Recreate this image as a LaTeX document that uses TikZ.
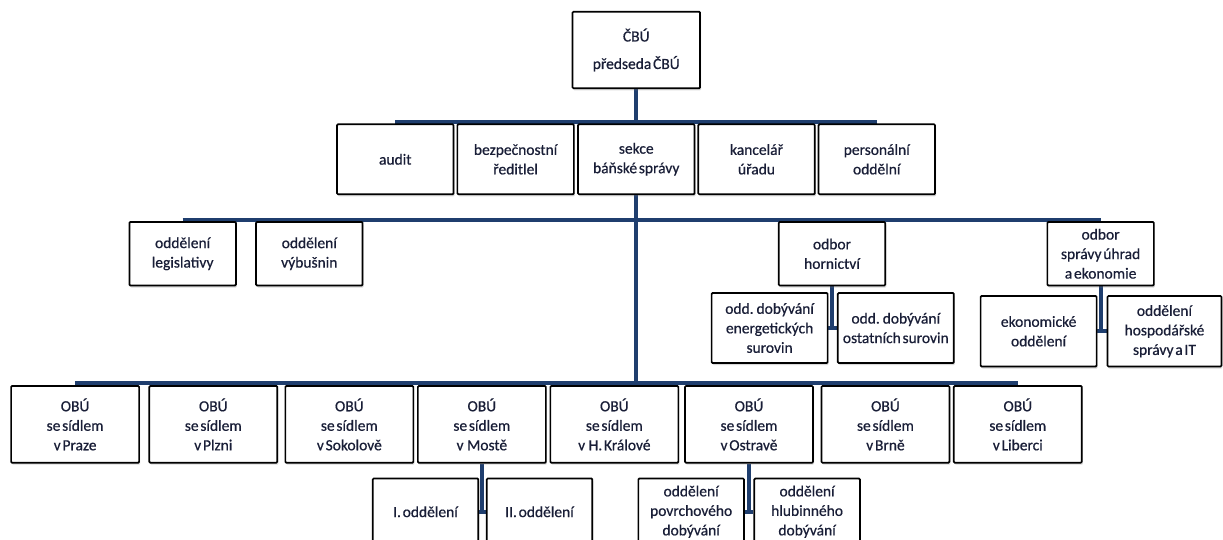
\documentclass[tikz,border=0pt]{standalone}
\usepackage{fontspec}
\setmainfont{Carlito}[WordSpace=0.5,FakeBold=0.6]
\usetikzlibrary{shadows,backgrounds}
\definecolor{conncol}{RGB}{31,62,110}
\definecolor{txtcol}{RGB}{25,30,55}
\tikzset{
  box/.style={draw=black, line width=1.7pt, rounded corners=1pt, fill=white,
    align=center, inner sep=1pt, text=txtcol,
    font=\fontsize{15.5}{19.5}\selectfont,
    drop shadow={shadow xshift=1pt, shadow yshift=-2pt, opacity=0.3}},
  toprow/.style={box, minimum width=116.5pt, minimum height=70pt},
  midrow/.style={box, minimum width=106.5pt, minimum height=63.5pt},
  subrow/.style={box, minimum width=116pt, minimum height=70pt},
  oburow/.style={box, minimum width=128pt, minimum height=76.7pt},
  lowrow/.style={box, minimum width=105.6pt, minimum height=66.5pt},
  conn/.style={draw=conncol, line width=4pt},
}
\begin{document}
\begin{tikzpicture}[x=1pt,y=-1pt]
\useasboundingbox (0,0) rectangle (1223,540);
\clip (0,0) rectangle (1223,540);
% top
\node[box, minimum width=127.5pt, minimum height=76.6pt] (cbu) at (636.25,50) {ČBÚ\\[8pt]předseda ČBÚ};
% row 2
\node[toprow] (audit) at (395.25,159.3) {audit};
\node[toprow] (bezp) at (515.6,159.3) {bezpečnostní\\ředitlel};
\node[toprow] (sekce) at (636.25,159.3) {sekce\\báňské správy};
\node[toprow] (kanc) at (756.5,159.3) {kancelář\\úřadu};
\node[toprow] (personal) at (876.75,159.3) {personální\\oddělní};
% row 3
\node[midrow] (legis) at (182.65,253.75) {oddělení\\legislativy};
\node[midrow] (vybus) at (309.3,253.75) {oddělení\\výbušnin};
\node[midrow] (hornictvi) at (832,253.75) {odbor\\hornictví};
\node[midrow] (spravy) at (1100.6,253.75) {odbor\\správy úhrad\\a ekonomie};
% sub-departments
\node[subrow] (energ) at (769.6,328) {odd. dobývání\\energetických\\surovin};
\node[subrow] (ostat) at (895.8,328) {odd. dobývání\\ostatních surovin};
\node[subrow, minimum height=70.5pt] (ekon) at (1038.6,331.25) {ekonomické\\oddělení};
\node[subrow, minimum height=70.5pt, minimum width=114pt] (hosp) at (1164.45,331.25) {oddělení\\hospodářské\\správy a IT};
% OBU row
\node[oburow] (praze) at (75.1,424.35) {OBÚ\\se sídlem\\v Praze};
\node[oburow] (plzni) at (213.3,424.35) {OBÚ\\se sídlem\\v Plzni};
\node[oburow] (sokolov) at (349.35,424.35) {OBÚ\\se sídlem\\v Sokolově};
\node[oburow] (moste) at (481.85,424.35) {OBÚ\\se sídlem\\v\ \ Mostě};
\node[oburow] (hkralove) at (614.35,424.35) {OBÚ\\se sídlem\\v\ \ H. Králové};
\node[oburow] (ostrava) at (749,424.35) {OBÚ\\se sídlem\\v Ostravě};
\node[oburow] (brno) at (885.45,424.35) {OBÚ\\se sídlem\\v Brně};
\node[oburow] (liberci) at (1017.8,424.35) {OBÚ\\se sídlem\\v Liberci};
% lowest row
\node[lowrow] (odd1) at (425.5,511.75) {I. oddělení};
\node[lowrow] (odd2) at (539.5,511.75) {II. oddělení};
\node[lowrow] (povrch) at (691.15,511.75) {oddělení\\povrchového\\dobývání};
\node[lowrow] (hlub) at (807.1,511.75) {oddělení\\hlubinného\\dobývání};
% connectors
\begin{scope}[on background layer]
\draw[conn] (cbu.south) -- (sekce.north);
\draw[conn] ([yshift=1.5pt]audit.north) -- ([yshift=1.5pt]personal.north);
\draw[conn] (sekce.south) -- ([yshift=2pt]sekce.south |- praze.north);
\draw[conn] ([yshift=1pt]legis.north) -- ([yshift=1pt]spravy.north);
\draw[conn] ([yshift=2pt]praze.north) -- ([yshift=2pt]liberci.north);
\draw[conn] (hornictvi.south) -- ([yshift=-2pt]hornictvi.south |- energ.east);
\draw[conn] (energ.east) -- (ostat.west);
\draw[conn] (spravy.south) -- ([yshift=-2pt]spravy.south |- ekon.east);
\draw[conn] (ekon.east) -- (hosp.west);
\draw[conn] (moste.south) -- (moste.south |- odd1.east);
\draw[conn] (odd1.east) -- (odd2.west);
\draw[conn] (ostrava.south) -- (ostrava.south |- povrch.east);
\draw[conn] (povrch.east) -- (hlub.west);
\end{scope}
\end{tikzpicture}
\end{document}
